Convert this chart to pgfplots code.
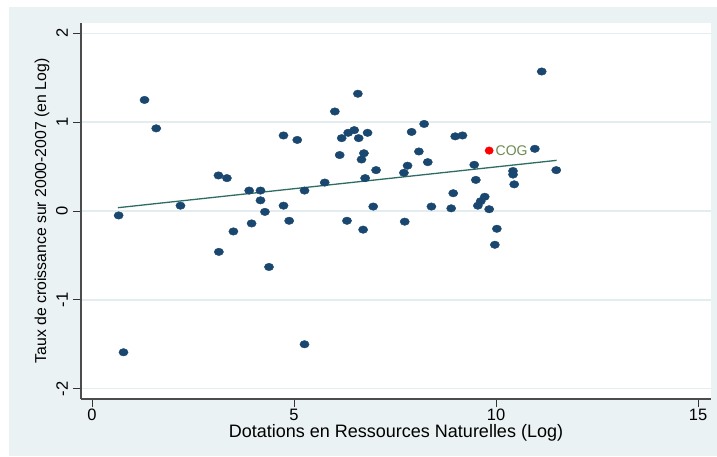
\documentclass[border=0pt]{standalone}
\usepackage{pgfplots}
\pgfplotsset{compat=1.18}
\usepackage{fontspec}
\setmainfont{Liberation Sans}

\definecolor{bgblue}{HTML}{EAF2F3}
\definecolor{gridc}{HTML}{E3EDEF}
\definecolor{stnavy}{HTML}{1A476F}
\definecolor{stteal}{HTML}{2D6D62}
\definecolor{cogtext}{HTML}{6B8A4E}

\begin{document}
\begin{tikzpicture}[x=1pt,y=1pt]
% background panels
\fill[white] (0,0) rectangle (717,456);
\fill[bgblue] (9,0) rectangle (717,449);
\fill[white] (81,57) rectangle (711,433);
\begin{axis}[
    at={(81pt,57pt)}, anchor=south west,
    scale only axis,
    width=630pt, height=376pt,
    xmin=-0.272, xmax=15.32,
    ymin=-2.116, ymax=2.116,
    axis x line*=bottom, axis y line*=left,
    axis line style={-, black!70, line width=1.2pt},
    xtick={0,5,10,15}, ytick={-2,-1,0,1,2},
    tick align=outside,
    major tick length=8pt,
    tick style={black!80, line width=0.9pt},
    ymajorgrids,
    grid style={gridc, line width=1.4pt},
    /pgf/number format/assume math mode=true,
    tick label style={font=\fontsize{16.5}{18}\selectfont},
    xticklabel style={anchor=north, inner sep=2pt},
    yticklabel style={rotate=90, anchor=south, inner sep=5pt},
    xlabel={Dotations en Ressources Naturelles (Log)},
    ylabel={Taux de croissance sur 2000-2007 (en Log)},
    every axis x label/.style={at={(axis description cs:0.5,-0.0904)},
        anchor=center, font=\fontsize{18}{20}\selectfont},
    every axis y label/.style={at={(axis description cs:-0.0619,0.5)},
        rotate=90, anchor=center, font=\fontsize{15.8}{18}\selectfont},
    clip=false,
]
% countries
\addplot[only marks, mark=*, mark size=3.75pt,
    mark options={fill=stnavy, draw=stnavy, xscale=1.23}] coordinates {
(0.66,-0.05) (0.78,-1.59) (1.30,1.25) (1.59,0.93) (2.19,0.06)
(3.13,0.40) (3.34,0.37) (3.89,0.23) (4.17,0.23) (4.17,0.12)
(4.28,-0.01) (4.74,0.85) (5.08,0.80) (4.74,0.06) (4.88,-0.11)
(3.50,-0.23) (3.95,-0.14) (3.14,-0.46) (4.38,-0.63) (6.01,1.12)
(6.58,1.32) (6.18,0.82) (6.34,0.88) (6.49,0.91) (6.60,0.82)
(6.82,0.88) (6.13,0.63) (6.73,0.65) (6.67,0.58) (7.03,0.46)
(6.76,0.37) (5.76,0.32) (5.26,0.23) (6.96,0.05) (7.91,0.89)
(8.22,0.98) (8.09,0.67) (8.31,0.55) (7.81,0.51) (7.72,0.43)
(8.99,0.84) (9.17,0.85) (9.46,0.52) (9.50,0.35) (8.94,0.20)
(8.40,0.05) (8.89,0.03) (9.55,0.06) (9.62,0.11) (9.72,0.16)
(9.83,0.02) (6.31,-0.11) (6.71,-0.21) (7.74,-0.12) (5.26,-1.50)
(10.02,-0.20) (9.97,-0.38) (11.13,1.57) (10.96,0.70) (10.42,0.45)
(10.42,0.41) (10.45,0.30) (11.49,0.46)
};
% fitted line
\addplot[stteal, line width=1.3pt] coordinates {(0.64,0.037) (11.50,0.57)};
% Congo
\addplot[only marks, mark=*, mark size=3.75pt,
    mark options={fill=red, draw=red, xscale=1.1},
    nodes near coords, point meta=explicit symbolic,
    nodes near coords style={anchor=west, xshift=3pt, text=cogtext,
        font=\fontsize{14}{16}\selectfont}]
    coordinates {(9.83,0.68)[COG]};
\end{axis}
\end{tikzpicture}
\end{document}
